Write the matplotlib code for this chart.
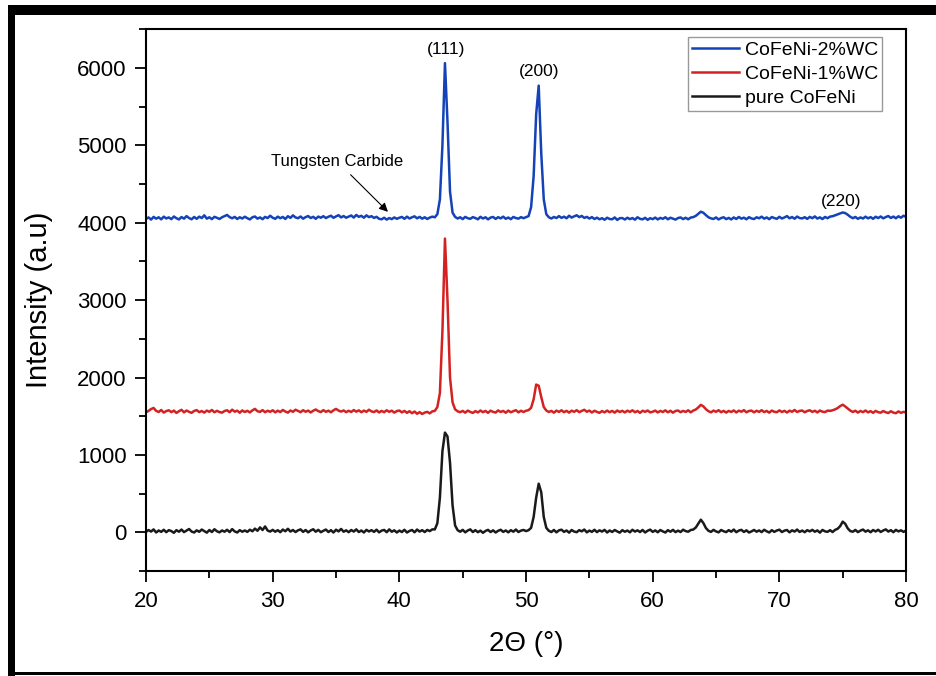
# XRD patterns of pure CoFeNi and the WC reinforced alloys, stacked with an intensity offset

import numpy as np
import matplotlib.pyplot as plt
from matplotlib.patches import Rectangle

plt.rcParams['font.family'] = ['Liberation Sans', 'DejaVu Sans']

# 2theta scan, 20-80 deg in 0.2 deg steps
two_theta = np.round(np.arange(20, 80.01, 0.2), 1)

# CoFeNi-2%WC (offset pattern on top)
wc2_counts = [
    4050, 4068, 4040, 4075, 4052, 4070, 4043, 4078, 4055, 4068,
    4046, 4080, 4058, 4042, 4073, 4052, 4085, 4060, 4044, 4074,
    4050, 4078, 4060, 4095, 4052, 4070, 4046, 4076, 4063, 4048,
    4070, 4085, 4100, 4072, 4057, 4075, 4048, 4070, 4054, 4077,
    4058, 4042, 4070, 4080, 4052, 4068, 4045, 4075, 4060, 4090,
    4064, 4050, 4078, 4058, 4074, 4048, 4084, 4062, 4095, 4068,
    4058, 4080, 4052, 4072, 4086, 4060, 4076, 4050, 4079, 4064,
    4084, 4060, 4077, 4090, 4063, 4081, 4097, 4068, 4086, 4064,
    4078, 4093, 4066, 4100, 4076, 4089, 4064, 4095, 4072, 4084,
    4062, 4076, 4050, 4044, 4064, 4040, 4060, 4046, 4068, 4050,
    4064, 4074, 4050, 4078, 4054, 4070, 4082, 4056, 4075, 4052,
    4070, 4048, 4066, 4078, 4070, 4110, 4300, 5000, 6060, 5300,
    4400, 4130, 4075, 4054, 4070, 4046, 4075, 4058, 4050, 4072,
    4060, 4044, 4076, 4054, 4070, 4043, 4066, 4074, 4049, 4071,
    4056, 4078, 4050, 4067, 4045, 4074, 4060, 4052, 4072, 4058,
    4072, 4085, 4200, 4600, 5400, 5770, 4900, 4300, 4110, 4070,
    4054, 4074, 4060, 4085, 4062, 4078, 4057, 4090, 4066, 4082,
    4096, 4072, 4087, 4062, 4075, 4054, 4072, 4048, 4065, 4044,
    4058, 4038, 4064, 4048, 4044, 4068, 4036, 4058, 4060, 4041,
    4064, 4046, 4060, 4039, 4070, 4050, 4043, 4063, 4037, 4058,
    4046, 4066, 4042, 4062, 4050, 4070, 4044, 4064, 4052, 4040,
    4060, 4068, 4046, 4064, 4044, 4066, 4072, 4088, 4115, 4142,
    4128, 4098, 4070, 4056, 4048, 4068, 4042, 4060, 4070, 4046,
    4062, 4042, 4068, 4048, 4074, 4052, 4065, 4044, 4071, 4055,
    4047, 4070, 4057, 4078, 4052, 4068, 4045, 4073, 4060, 4050,
    4076, 4054, 4068, 4085, 4057, 4073, 4051, 4079, 4060, 4055,
    4071, 4049, 4075, 4058, 4081, 4053, 4069, 4047, 4074, 4058,
    4078, 4084, 4095, 4108, 4120, 4132, 4124, 4102, 4076, 4058,
    4074, 4050, 4068, 4054, 4078, 4056, 4072, 4050, 4077, 4060,
    4080, 4056, 4073, 4086, 4061, 4079, 4057, 4083, 4064, 4090,
    4074]

# CoFeNi-1%WC (middle pattern)
wc1_counts = [
    1552, 1570, 1594, 1608, 1570, 1556, 1582, 1548, 1568, 1578,
    1554, 1574, 1544, 1566, 1584, 1551, 1575, 1558, 1545, 1570,
    1580, 1554, 1568, 1548, 1574, 1558, 1582, 1552, 1571, 1556,
    1547, 1569, 1578, 1553, 1586, 1560, 1573, 1546, 1576, 1556,
    1571, 1550, 1577, 1596, 1566, 1557, 1580, 1553, 1572, 1558,
    1578, 1551, 1573, 1555, 1582, 1562, 1548, 1575, 1558, 1585,
    1570, 1553, 1579, 1559, 1574, 1550, 1572, 1588, 1567, 1555,
    1580, 1558, 1573, 1552, 1578, 1596, 1574, 1561, 1576, 1554,
    1572, 1556, 1581, 1560, 1577, 1553, 1574, 1558, 1585, 1563,
    1555, 1576, 1550, 1570, 1553, 1578, 1558, 1573, 1548, 1568,
    1575, 1551, 1570, 1545, 1566, 1540, 1562, 1533, 1554, 1530,
    1548, 1558, 1538, 1564, 1570, 1620, 1800, 2600, 3795, 3000,
    2000, 1680, 1590, 1565, 1553, 1570, 1547, 1574, 1557, 1544,
    1567, 1550, 1575, 1553, 1570, 1545, 1573, 1557, 1549, 1576,
    1556, 1570, 1546, 1574, 1552, 1567, 1579, 1551, 1572, 1556,
    1572, 1580, 1610, 1720, 1910, 1895, 1750, 1620, 1575, 1556,
    1570, 1547, 1574, 1557, 1578, 1553, 1571, 1548, 1573, 1558,
    1579, 1554, 1570, 1584, 1559, 1574, 1549, 1572, 1557, 1545,
    1568, 1551, 1574, 1553, 1570, 1547, 1575, 1556, 1571, 1550,
    1573, 1557, 1578, 1552, 1569, 1545, 1572, 1558, 1575, 1551,
    1559, 1574, 1550, 1570, 1556, 1577, 1552, 1572, 1547, 1569,
    1575, 1553, 1570, 1557, 1578, 1551, 1574, 1588, 1615, 1648,
    1628, 1592, 1566, 1551, 1574, 1558, 1579, 1553, 1571, 1548,
    1570, 1556, 1576, 1550, 1573, 1559, 1580, 1552, 1569, 1574,
    1551, 1572, 1557, 1579, 1554, 1570, 1547, 1574, 1559, 1553,
    1576, 1556, 1571, 1549, 1573, 1559, 1582, 1556, 1570, 1575,
    1552, 1569, 1578, 1557, 1572, 1550, 1575, 1560, 1554, 1574,
    1570, 1578, 1590, 1607, 1632, 1650, 1627, 1600, 1574, 1556,
    1572, 1548, 1569, 1554, 1575, 1551, 1567, 1545, 1570, 1553,
    1547, 1568, 1552, 1543, 1565, 1548, 1540, 1563, 1545, 1558,
    1546]

# pure CoFeNi (bottom pattern, no offset)
pure_counts = [
    8, 32, 12, 40, 0, 26, 8, 35, 4, 30,
    18, -4, 30, 10, 38, 5, 25, 45, 12, 0,
    28, 9, 38, 18, -2, 32, 6, 42, 16, 2,
    26, 10, 35, 5, 44, 14, 0, 30, 10, 26,
    8, 36, 16, 50, 22, 66, 32, 78, 25, 12,
    34, 10, 30, 4, 38, 16, 48, 12, 32, 6,
    28, 40, 8, 32, 2, 26, 42, 10, 34, 4,
    22, 38, 6, 30, 0, 36, 14, 46, 10, 28,
    4, 32, 12, 40, 6, 26, 0, 34, 13, 30,
    8, 36, 2, 24, 33, 4, 40, 10, 28, 0,
    25, 6, 35, 0, 20, 32, 3, 38, 12, 30,
    6, 33, 18, 40, 40, 120, 450, 1050, 1290, 1240,
    900, 350, 90, 30, 10, 34, 2, 26, 40, 6,
    30, 4, 24, -4, 20, 34, 6, 28, 0, 22,
    35, 8, 26, 2, 30, 10, 38, 6, 24, 33,
    18, 30, 60, 200, 450, 630, 520, 200, 60, 22,
    6, 33, 2, 28, 36, 8, 26, -2, 32, 12,
    4, 30, 15, 38, 2, 25, 8, 35, 5, 28,
    12, 34, 0, 26, 7, 32, 14, -2, 30, 10,
    25, 2, 35, 12, 28, 6, 33, 0, 23, 37,
    8, 27, 3, 32, 14, 0, 30, 10, 34, 5,
    24, 6, 36, 18, 10, 32, 38, 64, 115, 165,
    122, 58, 22, 8, 34, 14, 2, 32, 16, 5,
    30, 10, 38, 4, 25, 34, 7, 28, 0, 14,
    33, 10, 27, 5, 35, 15, 0, 30, 8, 26,
    36, 6, 24, 32, 2, 28, 12, 38, 7, 25,
    4, 30, 14, 34, 10, 27, -2, 33, 15, 8,
    30, 6, 34, 48, 82, 140, 112, 52, 18, 10,
    33, 5, 24, 38, 11, 28, 3, 32, 13, 35,
    7, 26, 40, 12, 30, 4, 34, 14, 28, 8,
    25]

series_labels = ['CoFeNi-2%WC', 'CoFeNi-1%WC', 'pure CoFeNi']
series_colors = ['#1443b8', '#d42222', '#1a1a1a']

# Miller indices of the fcc reflections and where their labels sit
hkl_labels = ['(111)', '(200)', '(220)']
hkl_positions = [(43.7, 6230), (51.0, 5950), (74.9, 4270)]

fig = plt.figure(figsize=(9.36, 6.76), dpi=100)
ax = fig.add_axes([0.156, 0.155, 0.812, 0.802])

for counts, label, color in zip([wc2_counts, wc1_counts, pure_counts], series_labels, series_colors):
    ax.plot(two_theta, counts, color=color, lw=1.8, label=label)

for text, (x, y) in zip(hkl_labels, hkl_positions):
    ax.text(x, y, text, ha='center', va='center', fontsize=12.5)

ax.annotate('Tungsten Carbide', xy=(39.1, 4140), xytext=(35.1, 4790),
            ha='center', va='center', fontsize=12,
            arrowprops=dict(arrowstyle='-|>', color='black', lw=0.8,
                            mutation_scale=13, shrinkA=3, shrinkB=0))

ax.set_xlim(20, 80)
ax.set_ylim(-500, 6500)
ax.set_xticks(np.arange(20, 81, 10))
ax.set_xticks(np.arange(25, 80, 10), minor=True)
ax.set_yticks(np.arange(0, 6001, 1000))
ax.set_yticks(np.arange(-500, 6501, 500), minor=True)
ax.tick_params(which='major', direction='out', length=8, width=1.3, labelsize=16, pad=6)
ax.tick_params(which='minor', direction='out', length=5, width=1.3)
for spine in ax.spines.values():
    spine.set_linewidth(1.5)

ax.set_xlabel('2Θ (°)', fontsize=20, labelpad=14)
ax.set_ylabel('Intensity (a.u)', fontsize=21, labelpad=17)

leg = ax.legend(loc='upper right', bbox_to_anchor=(0.968, 0.985), fontsize=14,
                frameon=True, fancybox=False, edgecolor='#808080',
                handlelength=2.4, handletextpad=0.3, labelspacing=0.33,
                borderpad=0.2, borderaxespad=0)
leg.get_frame().set_linewidth(1.0)

# black frame round the figure (left, top and bottom edges)
W, H = 936, 676
fig.add_artist(Rectangle((8 / W, 0), 7 / W, 671 / H, transform=fig.transFigure,
                         facecolor='black', edgecolor='none'))
fig.add_artist(Rectangle((8 / W, 661 / H), 928 / W, 10 / H, transform=fig.transFigure,
                         facecolor='black', edgecolor='none'))
fig.add_artist(Rectangle((8 / W, 1 / H), 928 / W, 3 / H, transform=fig.transFigure,
                         facecolor='black', edgecolor='none'))

fig.savefig('out.png', dpi=100)
